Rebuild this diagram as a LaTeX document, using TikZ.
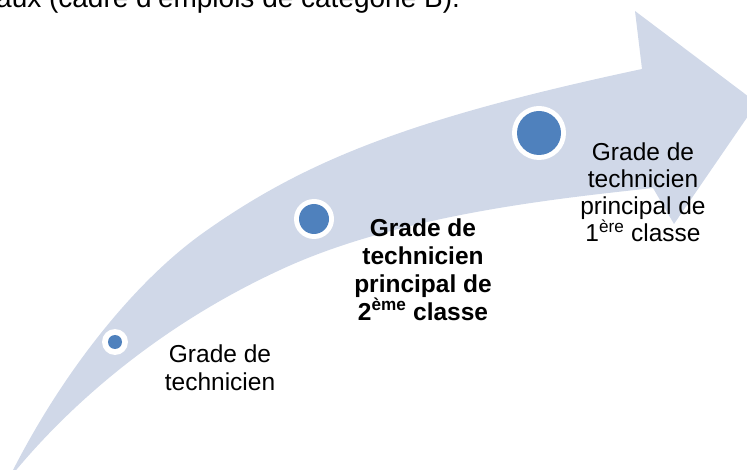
\documentclass[tikz,border=0pt]{standalone}
\usepackage{fontspec}
\setmainfont{Liberation Sans}
\definecolor{band}{HTML}{D0D8E8}
\definecolor{dotblue}{HTML}{4F81BD}
\begin{document}
\begin{tikzpicture}[x=1pt,y=-1pt,
  lbl/.style={font=\fontsize{24.5}{27.3}\selectfont, align=center, inner sep=0, anchor=base},
  ringc/.style={circle, fill=white, inner sep=0},
  dotc/.style={circle, fill=dotblue, inner sep=0}]
\useasboundingbox (0,0) rectangle (747,470);
\clip (0,0) rectangle (747,470);
% curved arrow
\fill[band] (8,480) .. controls (60,375) and (133,283) .. (203,233)
  .. controls (303,162) and (407,119) .. (642,69)
  -- (635,11) -- (757,103) -- (674,224) -- (653,188)
  .. controls (563,198) and (400,214) .. (280,270)
  .. controls (150,330) and (60,415) .. (8,480) -- cycle;
% milestones
\node[ringc, minimum size=26] (r1) at (115,342) {};
\node[dotc, minimum size=14] (d1) at (r1) {};
\node[ringc, minimum size=40] (r2) at (314,219) {};
\node[dotc, minimum size=30] (d2) at (r2) {};
\node[ringc, minimum size=54] (r3) at (539,133) {};
\node[dotc, minimum size=44] (d3) at (r3) {};
% labels (anchor = baseline of last line)
\node[lbl] (t1) at (220,390) {Grade de\\technicien};
\node[lbl, font=\fontsize{24.5}{28}\selectfont\bfseries] (t2) at (423,320) {Grade de\\technicien\\principal de\\2\textsuperscript{ème} classe};
\node[lbl] (t3) at (643,242) {Grade de\\technicien\\principal de\\1\textsuperscript{ère} classe};
\node[anchor=base west, font=\fontsize{28}{32}\selectfont, inner sep=0] (top) at (-4,8) {aux (cadre d'emplois de catégorie B).};
\end{tikzpicture}
\end{document}
